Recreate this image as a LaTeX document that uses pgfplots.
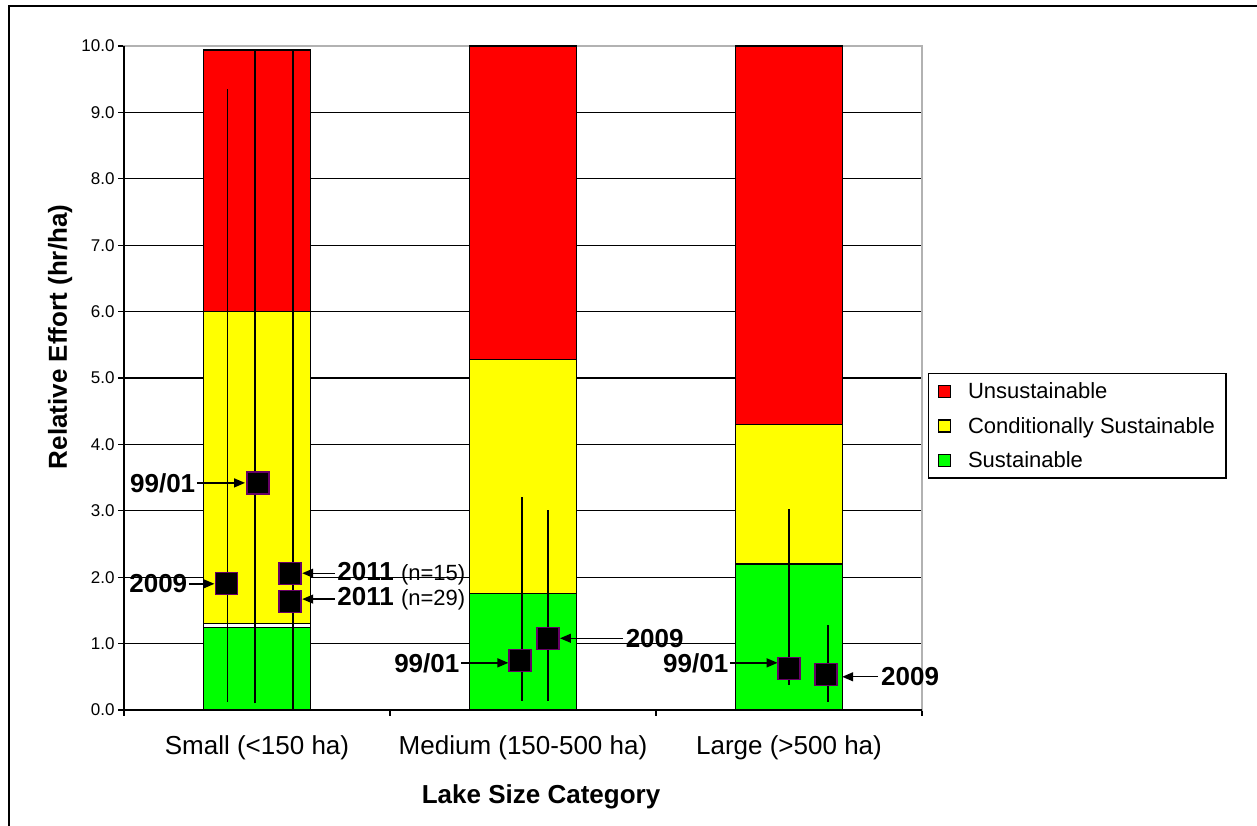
\documentclass[border=0pt]{standalone}
\usepackage{fontspec}
\setmainfont{Liberation Sans}
\usepackage{pgfplots}
\pgfplotsset{compat=1.18}
\usetikzlibrary{arrows.meta}
\definecolor{cRed}{RGB}{255,0,0}
\definecolor{cYel}{RGB}{255,255,0}
\definecolor{cGrn}{RGB}{0,255,0}
\definecolor{cEdge}{RGB}{102,0,102}
\newcommand{\fs}[1]{\fontsize{#1}{#1}\selectfont}
\begin{document}
\begin{tikzpicture}
\useasboundingbox (0,0) rectangle (1257pt,826pt);
\draw[line width=2.2pt] (9pt,-3pt) -- (9pt,820pt) -- (1262pt,820pt);
\begin{axis}[
  at={(124pt,116pt)}, anchor=south west,
  width=798pt, height=664pt, scale only axis,
  clip=false,
  xmin=-0.5, xmax=2.5, ymin=0, ymax=10,
  axis line style={draw=gray!60, line width=1.2pt},
  tick pos=left,
  tick align=outside,
  major tick length=6pt,
  tick style={black, line width=1.2pt},
  ytick={0,1,...,10},
  /pgf/number format/assume math mode=true,
  y tick label style={/pgf/number format/.cd, fixed, fixed zerofill, precision=1, /tikz/.cd, font=\fs{17}},
  ymajorgrids,
  y grid style={black, line width=1.2pt},
  xtick={-0.5,0.5,1.5,2.5},
  xticklabels={},
  extra x ticks={0,1,2},
  extra x tick labels={Small (<150 ha), Medium (150-500 ha), Large (>500 ha)},
  extra x tick style={major tick length=0pt, grid=none, tick label style={font=\fs{26}, yshift=-22pt}},
  xlabel={Lake Size Category},
  x label style={font=\fs{26}\bfseries, at={(axis description cs:0.5226,-0.131)}, anchor=center},
  ylabel={Relative Effort (hr/ha)},
  y label style={font=\fs{26}\bfseries, at={(axis description cs:-0.080,0.562)}, anchor=center},
  legend style={at={(axis description cs:1.0075,0.5075)}, anchor=north west, draw=black, line width=1.4pt, font=\fs{22}, row sep=13pt, inner xsep=9pt, inner ysep=7pt,
    /tikz/every odd column/.append style={column sep=15pt}},
  legend cell align=left,
]
\addplot[ybar, bar width=0.4, bar shift=0pt, fill=cRed, draw=black, line width=1.3pt,
  legend image code/.code={\draw[fill=cRed, draw=black, line width=1.3pt] (0pt,-6pt) rectangle (12pt,6pt);}]
  coordinates {(0,9.94) (1,10) (2,10)};
\addlegendentry{Unsustainable}
\addplot[ybar, bar width=0.4, bar shift=0pt, fill=cYel, draw=black, line width=1.3pt,
  legend image code/.code={\draw[fill=cYel, draw=black, line width=1.3pt] (0pt,-6pt) rectangle (12pt,6pt);}]
  coordinates {(0,6.0) (1,5.28) (2,4.3)};
\addlegendentry{Conditionally Sustainable}
\addplot[ybar, bar width=0.4, bar shift=0pt, fill=white, draw=black, line width=1.3pt, forget plot]
  coordinates {(0,1.3)};
\addplot[ybar, bar width=0.4, bar shift=0pt, fill=cGrn, draw=black, line width=1.3pt,
  legend image code/.code={\draw[fill=cGrn, draw=black, line width=1.3pt] (0pt,-6pt) rectangle (12pt,6pt);}]
  coordinates {(0,1.24) (1,1.75) (2,2.2)};
\addlegendentry{Sustainable}
% range lines
\addplot[black, line width=1.5pt, forget plot] coordinates {(-0.11,0.12) (-0.11,9.35)};
\addplot[black, line width=1.5pt, forget plot] coordinates {(-0.0075,0.10) (-0.0075,9.94)};
\addplot[black, line width=1.5pt, forget plot] coordinates {(0.135,0.0) (0.135,9.94)};
\addplot[black, line width=1.5pt, forget plot] coordinates {(0.996,0.14) (0.996,3.21)};
\addplot[black, line width=1.5pt, forget plot] coordinates {(1.094,0.14) (1.094,3.01)};
\addplot[black, line width=1.5pt, forget plot] coordinates {(2.0,0.38) (2.0,3.03)};
\addplot[black, line width=1.5pt, forget plot] coordinates {(2.147,0.12) (2.147,1.28)};
% points
\addplot[only marks, mark=square*, mark size=11pt, mark options={fill=black, draw=cEdge, line width=1.2pt}, forget plot]
  coordinates {(-0.115,1.90) (0.004,3.42) (0.124,2.06) (0.124,1.63) (0.989,0.74) (1.094,1.08) (2.0,0.62) (2.139,0.54)};
% annotations
\begin{scope}[line width=1.4pt]
\draw[-{Triangle[length=11pt,width=9pt]}] (axis cs:-0.226,3.42) -- (axis cs:-0.045,3.42);
\node[anchor=east, font=\fs{26}\bfseries, inner sep=1pt] at (axis cs:-0.226,3.42) {99/01};
\draw[-{Triangle[length=11pt,width=9pt]}] (axis cs:-0.256,1.90) -- (axis cs:-0.160,1.90);
\node[anchor=east, font=\fs{26}\bfseries, inner sep=1pt] at (axis cs:-0.256,1.90) {2009};
\draw[-{Triangle[length=11pt,width=9pt]}] (axis cs:0.293,2.06) -- (axis cs:0.170,2.06);
\node[anchor=west, inner sep=1pt] at (axis cs:0.296,2.06) {\fs{26}\bfseries 2011 \fs{22}\mdseries(n=15)};
\draw[-{Triangle[length=11pt,width=9pt]}] (axis cs:0.293,1.67) -- (axis cs:0.170,1.67);
\node[anchor=west, inner sep=1pt] at (axis cs:0.296,1.67) {\fs{26}\bfseries 2011 \fs{22}\mdseries(n=29)};
\draw[-{Triangle[length=11pt,width=9pt]}] (axis cs:0.767,0.71) -- (axis cs:0.945,0.71);
\node[anchor=east, font=\fs{26}\bfseries, inner sep=1pt] at (axis cs:0.767,0.71) {99/01};
\draw[-{Triangle[length=11pt,width=9pt]}] (axis cs:1.376,1.08) -- (axis cs:1.139,1.08);
\node[anchor=west, font=\fs{26}\bfseries, inner sep=1pt] at (axis cs:1.380,1.08) {2009};
\draw[-{Triangle[length=11pt,width=9pt]}] (axis cs:1.778,0.71) -- (axis cs:1.957,0.71);
\node[anchor=east, font=\fs{26}\bfseries, inner sep=1pt] at (axis cs:1.778,0.71) {99/01};
\draw[-{Triangle[length=11pt,width=9pt]}] (axis cs:2.335,0.50) -- (axis cs:2.200,0.50);
\node[anchor=west, font=\fs{26}\bfseries, inner sep=1pt] at (axis cs:2.340,0.50) {2009};
\end{scope}
\draw[black, line width=1.5pt] (rel axis cs:0,1) -- (rel axis cs:0,0) -- (rel axis cs:1,0);
\end{axis}
\end{tikzpicture}
\end{document}
